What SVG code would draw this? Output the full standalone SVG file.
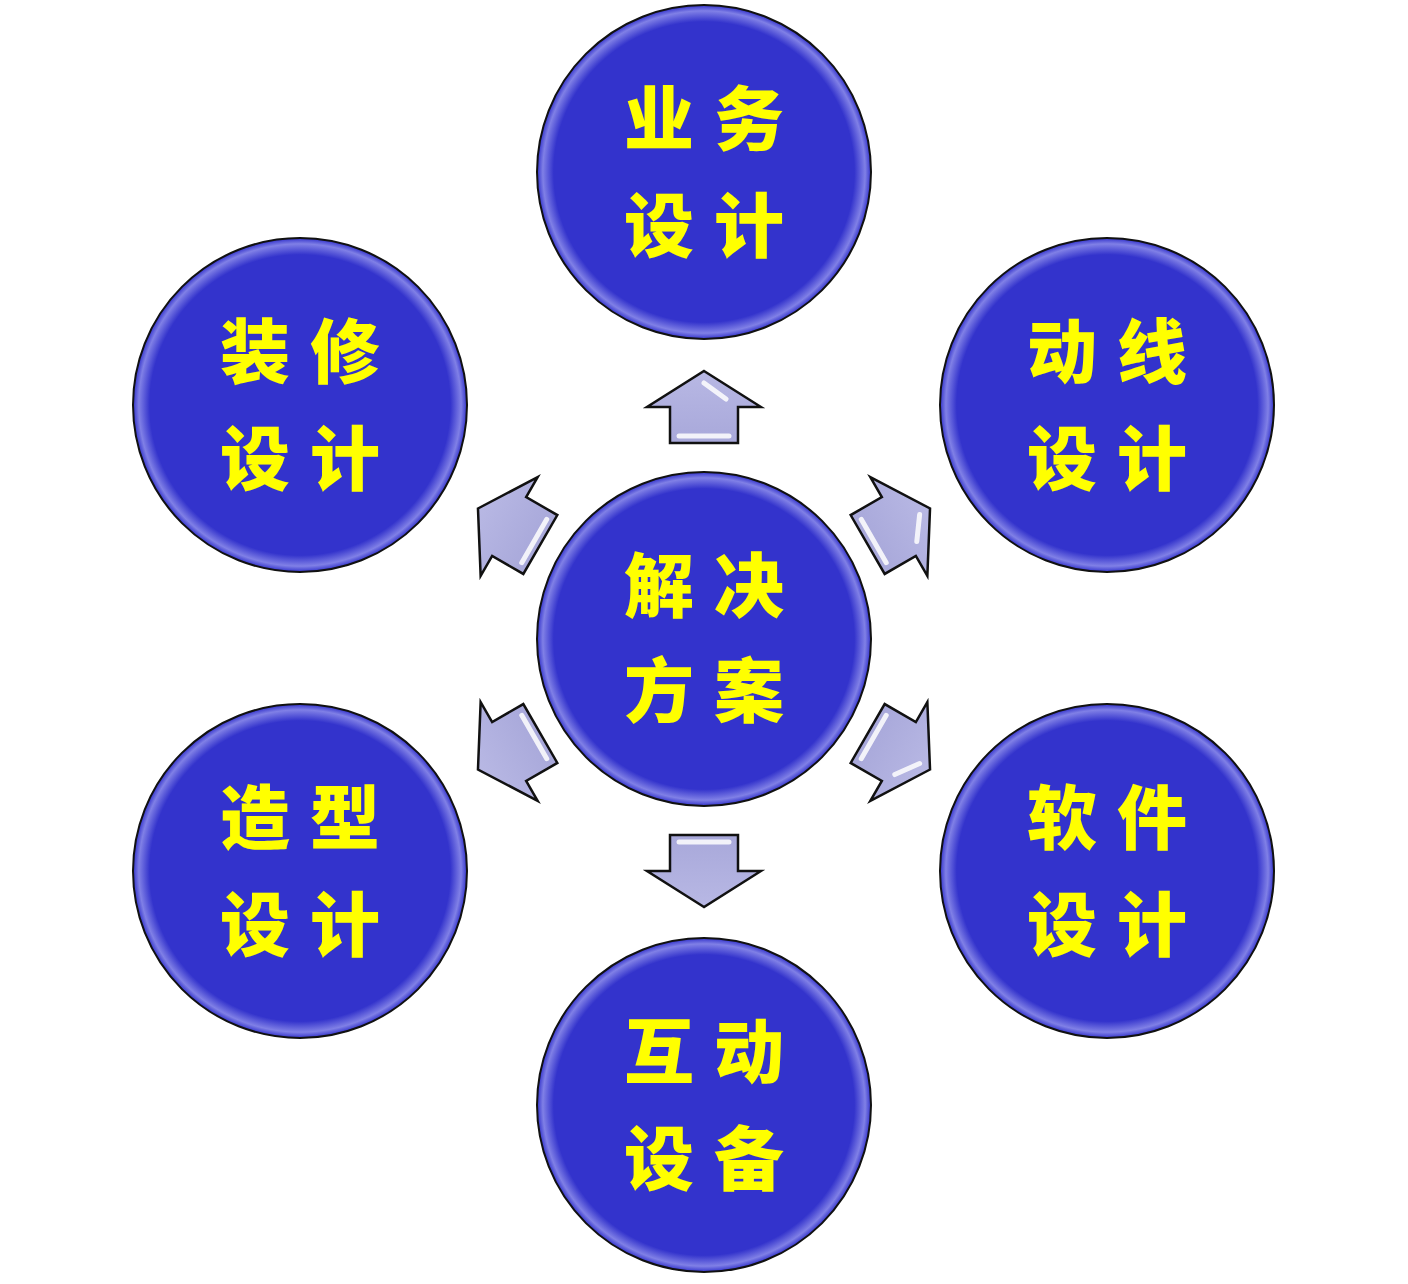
<svg xmlns="http://www.w3.org/2000/svg" width="1408" height="1284" viewBox="0 0 1408 1284">
<defs>
<radialGradient id="g" cx="50%" cy="50%" r="50%">
<stop offset="0.9" stop-color="#3333CC"/>
<stop offset="0.965" stop-color="#8080E6"/>
<stop offset="1" stop-color="#3333CC"/>
</radialGradient>
<linearGradient id="a" x1="0" y1="0" x2="0" y2="1">
<stop offset="0" stop-color="#B8B8E4"/>
<stop offset="1" stop-color="#A8A8DA"/>
</linearGradient>
<path id="arr" d="M0,-36 L57,0 L34,0 L34,36 L-34,36 L-34,0 L-57,0 Z"/>
</defs>
<style>
.c{fill:url(#g);stroke:#111;stroke-width:2}
.t{font-family:"Noto Sans CJK SC",sans-serif;font-weight:900;font-size:70px;letter-spacing:20px;fill:#FFFF00;text-anchor:middle}
.ar{fill:url(#a);stroke:#111;stroke-width:2.5;stroke-linejoin:miter}
.hl{stroke:#fff;stroke-width:5;stroke-linecap:round;opacity:0.85}
</style>
<rect width="1408" height="1284" fill="#fff"/>
<g id="connectors">
<g transform="translate(704,407)"><use href="#arr" class="ar"/><line class="hl" x1="0" y1="-24" x2="22" y2="-8"/><line class="hl" x1="-25" y1="29" x2="25" y2="29"/></g>
<g transform="rotate(60 704 639) translate(704,414)"><use href="#arr" class="ar"/><line class="hl" x1="0" y1="-24" x2="22" y2="-8"/><line class="hl" x1="-25" y1="29" x2="25" y2="29"/></g>
<g transform="rotate(120 704 639) translate(704,414)"><use href="#arr" class="ar"/><line class="hl" x1="0" y1="-24" x2="22" y2="-8"/><line class="hl" x1="-25" y1="29" x2="25" y2="29"/></g>
<g transform="rotate(180 704 639) translate(704,407)"><use href="#arr" class="ar"/><line class="hl" x1="-25" y1="29" x2="25" y2="29"/></g>
<g transform="rotate(240 704 639) translate(704,414)"><use href="#arr" class="ar"/><line class="hl" x1="-25" y1="29" x2="25" y2="29"/></g>
<g transform="rotate(300 704 639) translate(704,414)"><use href="#arr" class="ar"/><line class="hl" x1="-25" y1="29" x2="25" y2="29"/></g>
</g>
<g id="center"><circle class="c" cx="704" cy="639" r="167"/><text class="t" x="714" y="612">解决</text><text class="t" x="714" y="717">方案</text></g>
<g id="n1"><circle class="c" cx="704" cy="172" r="167"/><text class="t" x="714" y="145">业务</text><text class="t" x="714" y="252">设计</text></g>
<g id="n2"><circle class="c" cx="1107" cy="405" r="167"/><text class="t" x="1117" y="378">动线</text><text class="t" x="1117" y="485">设计</text></g>
<g id="n3"><circle class="c" cx="1107" cy="871" r="167"/><text class="t" x="1117" y="844">软件</text><text class="t" x="1117" y="951">设计</text></g>
<g id="n4"><circle class="c" cx="704" cy="1105" r="167"/><text class="t" x="714" y="1078">互动</text><text class="t" x="714" y="1185">设备</text></g>
<g id="n5"><circle class="c" cx="300" cy="871" r="167"/><text class="t" x="310" y="844">造型</text><text class="t" x="310" y="951">设计</text></g>
<g id="n6"><circle class="c" cx="300" cy="405" r="167"/><text class="t" x="310" y="378">装修</text><text class="t" x="310" y="485">设计</text></g>
</svg>
